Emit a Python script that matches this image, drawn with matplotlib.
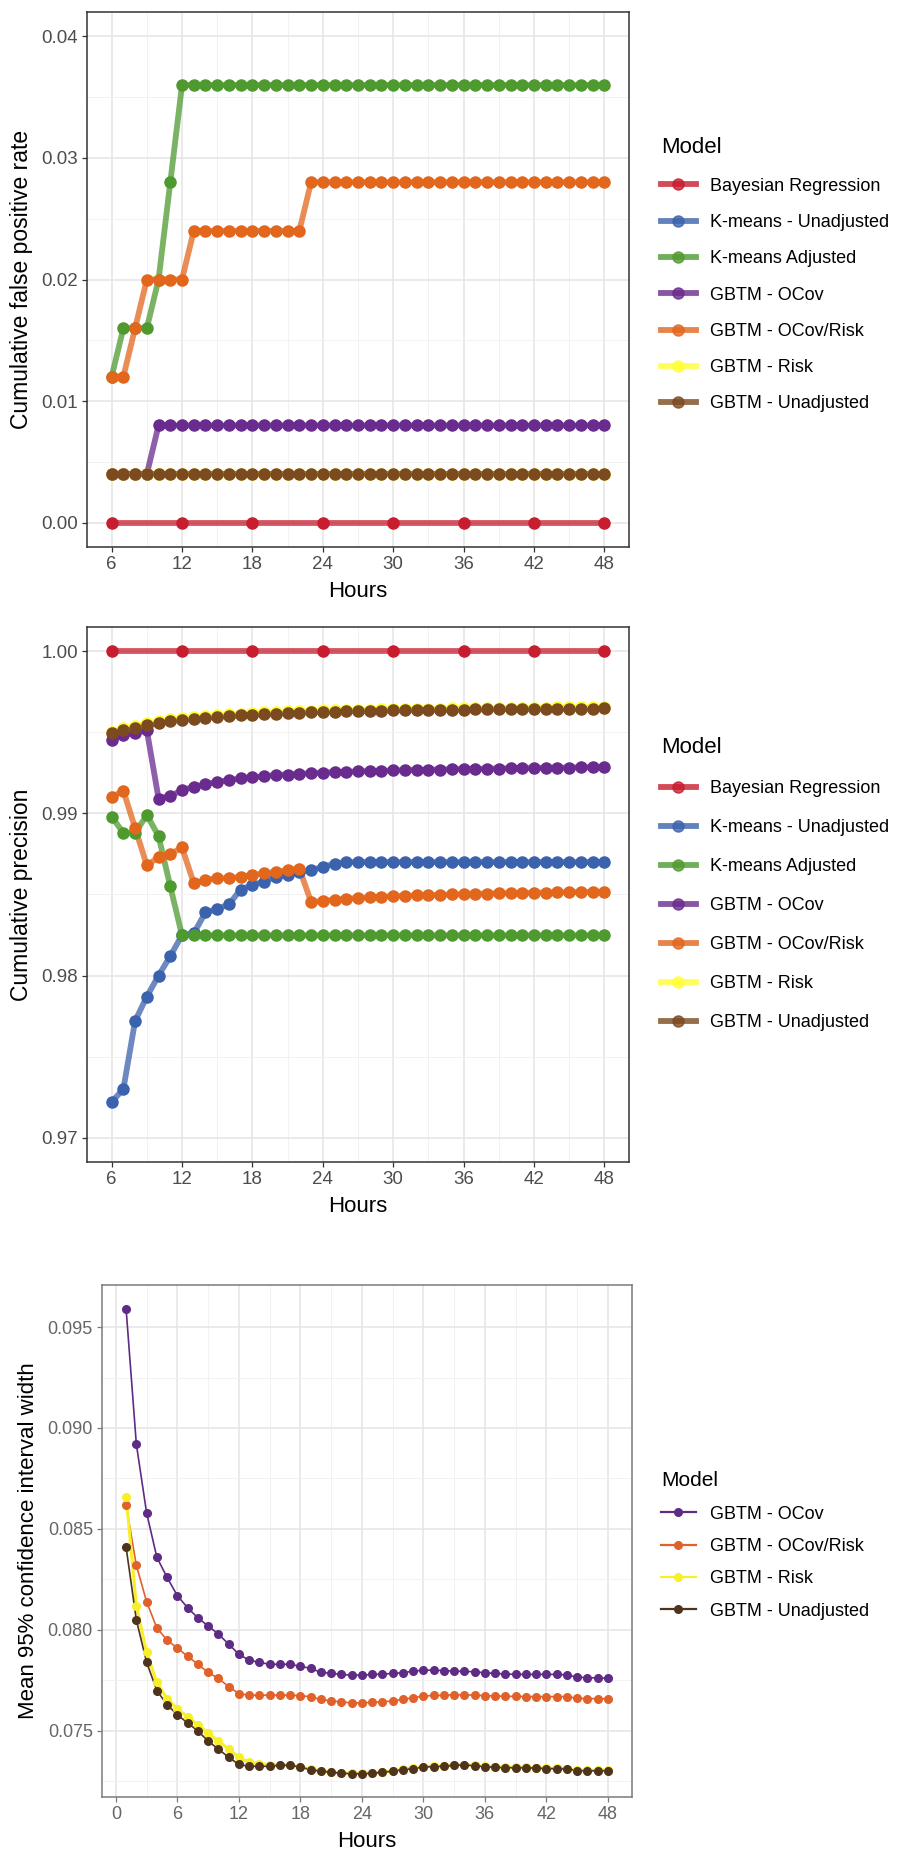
import matplotlib
matplotlib.use("Agg")
import matplotlib.pyplot as plt
from matplotlib.lines import Line2D
from matplotlib.ticker import MultipleLocator, FormatStrFormatter

plt.rcParams['font.family'] = ['Liberation Sans', 'DejaVu Sans']

# ---------------- data ----------------
hours = list(range(6, 49))
hours_bayes = [6, 12, 18, 24, 30, 36, 42, 48]
hours_ci = list(range(1, 49))

models = ['Bayesian Regression', 'K-means - Unadjusted', 'K-means Adjusted',
          'GBTM - OCov', 'GBTM - OCov/Risk', 'GBTM - Risk', 'GBTM - Unadjusted']
colors = ['#c81d2e', '#3b62ad', '#4e9a2f', '#6a2b8e', '#e2661c', '#ffff33', '#7b4a1f']

# cumulative false positive rate
fpr_bayes = [0.0] * 8
fpr_kmeans_adj = [0.012, 0.016, 0.016, 0.016, 0.020, 0.028] + [0.036] * 37
fpr_ocov = [0.004] * 4 + [0.008] * 39
fpr_ocov_risk = [0.012, 0.012, 0.016] + [0.020] * 4 + [0.024] * 10 + [0.028] * 26
fpr_risk = [0.004] * 43
fpr_unadj = [0.004] * 43

# cumulative precision
prec_bayes = [1.0] * 8
prec_kmeans_unadj = [0.9722, 0.9730, 0.9772, 0.9787, 0.9800, 0.9812, 0.9825, 0.9826,
                     0.9839, 0.9841, 0.9844, 0.9853, 0.9856, 0.9858, 0.9861, 0.9862,
                     0.9864, 0.9865, 0.9867, 0.9869, 0.9870] + [0.9870] * 22
prec_kmeans_adj = [0.9898, 0.9888, 0.9888, 0.9899, 0.9886, 0.9855] + [0.98248] * 37
prec_ocov = [0.99456, 0.99483, 0.99497, 0.99513, 0.99092, 0.99107, 0.99144, 0.99164,
             0.99180, 0.99195, 0.99205, 0.99216, 0.99222, 0.99230, 0.99236, 0.99240,
             0.99244, 0.99248, 0.99252, 0.99255, 0.99257, 0.99259, 0.99261, 0.99263,
             0.99265, 0.99267, 0.99268, 0.99270, 0.99271, 0.99272, 0.99274, 0.99275,
             0.99276, 0.99277, 0.99278, 0.99279, 0.99280, 0.99281, 0.99282, 0.99283,
             0.99284, 0.99285, 0.99286]
prec_ocov_risk = [0.9910, 0.9914, 0.9891, 0.9868, 0.9873, 0.9875, 0.9879, 0.9857,
                  0.9859, 0.9860, 0.9860, 0.9861, 0.9862, 0.9863, 0.9864, 0.9865,
                  0.9866, 0.98454, 0.98460, 0.98468, 0.98473, 0.98478, 0.98482, 0.98486,
                  0.98489, 0.98492, 0.98494, 0.98496, 0.98498, 0.98500, 0.98502, 0.98504,
                  0.98506, 0.98507, 0.98508, 0.98510, 0.98511, 0.98512, 0.98513, 0.98514,
                  0.98515, 0.98516, 0.98517]
prec_risk = [0.99505, 0.99525, 0.99542, 0.99557, 0.99570, 0.99580, 0.99589, 0.99596,
             0.99602, 0.99607, 0.99612, 0.99616, 0.99620, 0.99623, 0.99626, 0.99629,
             0.99631, 0.99633, 0.99635, 0.99637, 0.99638, 0.99640, 0.99641, 0.99642,
             0.99643, 0.99644, 0.99645, 0.99646, 0.99647, 0.99648, 0.99649, 0.99650,
             0.99650, 0.99651, 0.99652, 0.99652, 0.99653, 0.99653, 0.99654, 0.99654,
             0.99655, 0.99655, 0.99656]
prec_unadj = [0.99495, 0.99515, 0.99530, 0.99545, 0.99558, 0.99568, 0.99577, 0.99584,
              0.99590, 0.99596, 0.99601, 0.99605, 0.99609, 0.99613, 0.99616, 0.99619,
              0.99622, 0.99624, 0.99626, 0.99628, 0.99630, 0.99631, 0.99633, 0.99634,
              0.99635, 0.99636, 0.99637, 0.99638, 0.99639, 0.99640, 0.99641, 0.99642,
              0.99642, 0.99643, 0.99644, 0.99644, 0.99645, 0.99645, 0.99646, 0.99646,
              0.99647, 0.99647, 0.99648]

# mean 95% confidence interval width
ci_models = ['GBTM - OCov', 'GBTM - OCov/Risk', 'GBTM - Risk', 'GBTM - Unadjusted']
ci_colors = ['#5e2b85', '#e0622a', '#f7ef2a', '#4f331c']
ci_ocov = [0.0959, 0.0892, 0.0858, 0.0836, 0.0826, 0.0817, 0.0811, 0.0806, 0.0802, 0.0798,
           0.0793, 0.0788, 0.0785, 0.0784, 0.0783, 0.0783, 0.0783, 0.0782, 0.0781, 0.0779,
           0.07785, 0.0778, 0.07776, 0.07776, 0.0778, 0.07781, 0.07785, 0.07788, 0.07796, 0.07801,
           0.07801, 0.07799, 0.07796, 0.07795, 0.07793, 0.07788, 0.07785, 0.07782, 0.0778, 0.0778,
           0.0778, 0.0778, 0.0778, 0.07778, 0.07766, 0.07764, 0.07762, 0.07762]
ci_ocov_risk = [0.0862, 0.0832, 0.0814, 0.0801, 0.0795, 0.0791, 0.0787, 0.0783, 0.0779, 0.0776,
                0.0772, 0.07685, 0.07677, 0.07677, 0.07677, 0.07677, 0.07677, 0.07675, 0.07669, 0.07656,
                0.07649, 0.07644, 0.07639, 0.07639, 0.07642, 0.07644, 0.07649, 0.07656, 0.07665, 0.07672,
                0.07676, 0.07676, 0.07679, 0.07679, 0.07677, 0.07675, 0.07673, 0.07672, 0.07671, 0.0767,
                0.0767, 0.0767, 0.0767, 0.0767, 0.07662, 0.0766, 0.0766, 0.0766]
ci_risk = [0.0866, 0.0812, 0.0789, 0.0774, 0.0766, 0.0761, 0.0757, 0.0753, 0.0749, 0.0745,
           0.0741, 0.0737, 0.07345, 0.07338, 0.07333, 0.07332, 0.07332, 0.07323, 0.0731, 0.07303,
           0.07297, 0.07293, 0.0729, 0.0729, 0.07293, 0.07297, 0.07303, 0.0731, 0.07316, 0.07323,
           0.07326, 0.07327, 0.07332, 0.07333, 0.0733, 0.07325, 0.07322, 0.0732, 0.0732, 0.0732,
           0.07318, 0.07316, 0.07315, 0.07314, 0.07306, 0.07305, 0.07305, 0.07305]
ci_unadj = [0.0841, 0.0805, 0.0784, 0.0770, 0.0763, 0.0758, 0.0754, 0.0750, 0.0745, 0.0741,
            0.0737, 0.07334, 0.07325, 0.07325, 0.07325, 0.0733, 0.0733, 0.07321, 0.07308, 0.07301,
            0.07295, 0.07291, 0.07288, 0.07288, 0.07291, 0.07295, 0.07301, 0.07308, 0.07314, 0.07321,
            0.07324, 0.07325, 0.0733, 0.07331, 0.07328, 0.07323, 0.0732, 0.07318, 0.07318, 0.07318,
            0.07316, 0.07314, 0.07313, 0.07312, 0.07304, 0.07303, 0.07303, 0.07303]

# ---------------- figure ----------------
W, H = 900, 1863
fig = plt.figure(figsize=(W / 100, H / 100), dpi=100)


def make_axes(left, top, right, bottom):
    return fig.add_axes([left / W, 1 - bottom / H, (right - left) / W, (bottom - top) / H])


def style(ax, border='#333333', tick_color='#4d4d4d', size=13.5):
    ax.set_axisbelow(True)
    ax.grid(which='major', color='#e4e4e4', lw=1.1)
    ax.grid(which='minor', color='#f0f0f0', lw=0.6)
    for s in ax.spines.values():
        s.set_color(border)
        s.set_linewidth(1.1)
    ax.tick_params(which='major', length=3.5, width=0.9, color=border,
                   labelsize=size, labelcolor=tick_color, pad=3)
    ax.tick_params(which='minor', length=0)


def draw_big(ax, series):
    for x, y, c in series:
        ax.plot(x, y, color=c, lw=4.2, alpha=0.75, solid_capstyle='round', zorder=2)
        ax.plot(x, y, ls='none', marker='o', ms=8, color=c, mec=c, zorder=3)


def big_legend(y_top, spacing):
    handles = [Line2D([], [], color=c, lw=4.2, alpha=0.8, marker='o', ms=8,
                      mfc=c, mec=c) for c in colors]
    leg = fig.legend(handles, models, loc='upper left',
                     bbox_to_anchor=(645 / W, 1 - y_top / H), frameon=False,
                     title='Model', title_fontsize=16, fontsize=13,
                     labelspacing=spacing, handlelength=1.9, handletextpad=0.8,
                     alignment='left')
    return leg


# panel 1: false positive rate
ax1 = make_axes(87, 12, 629, 547)
style(ax1)
draw_big(ax1, [
    (hours_bayes, fpr_bayes, colors[0]),
    (hours, fpr_kmeans_adj, colors[2]),
    (hours, fpr_ocov, colors[3]),
    (hours, fpr_ocov_risk, colors[4]),
    (hours, fpr_risk, colors[5]),
    (hours, fpr_unadj, colors[6]),
])
ax1.set_xlim(3.9, 50.1)
ax1.set_ylim(-0.002, 0.042)
ax1.set_xticks(range(6, 49, 6))
ax1.xaxis.set_minor_locator(MultipleLocator(3))
ax1.yaxis.set_major_locator(MultipleLocator(0.01))
ax1.yaxis.set_minor_locator(MultipleLocator(0.005))
ax1.yaxis.set_major_formatter(FormatStrFormatter('%.2f'))
ax1.set_xlabel('Hours', fontsize=16, labelpad=6)
ax1.set_ylabel('Cumulative false positive rate', fontsize=16.5, labelpad=6)
big_legend(121, 1.07)

# panel 2: precision
ax2 = make_axes(87, 627, 629, 1162)
style(ax2)
draw_big(ax2, [
    (hours_bayes, prec_bayes, colors[0]),
    (hours, prec_kmeans_unadj, colors[1]),
    (hours, prec_kmeans_adj, colors[2]),
    (hours, prec_ocov, colors[3]),
    (hours, prec_ocov_risk, colors[4]),
    (hours, prec_risk, colors[5]),
    (hours, prec_unadj, colors[6]),
])
ax2.set_xlim(3.9, 50.1)
ax2.set_ylim(0.9685, 1.0015)
ax2.set_xticks(range(6, 49, 6))
ax2.xaxis.set_minor_locator(MultipleLocator(3))
ax2.yaxis.set_major_locator(MultipleLocator(0.01))
ax2.yaxis.set_minor_locator(MultipleLocator(0.005))
ax2.yaxis.set_major_formatter(FormatStrFormatter('%.2f'))
ax2.set_xlabel('Hours', fontsize=16, labelpad=6)
ax2.set_ylabel('Cumulative precision', fontsize=16.5, labelpad=6)
big_legend(721, 1.22)

# panel 3: confidence interval width
ax3 = make_axes(102, 1285, 632, 1797)
style(ax3, border='#7a7a7a', tick_color='#666666', size=13)
for y, c in zip([ci_ocov, ci_ocov_risk, ci_risk, ci_unadj], ci_colors):
    lw = 2.2 if c == '#f7ef2a' else 1.2
    ax3.plot(hours_ci, y, color=c, lw=lw, zorder=2)
    ax3.plot(hours_ci, y, ls='none', marker='o', ms=5.5, color=c, mec=c, zorder=3)
ax3.set_xlim(-1.35, 50.35)
ax3.set_ylim(0.07173, 0.09708)
ax3.set_xticks(range(0, 49, 6))
ax3.xaxis.set_minor_locator(MultipleLocator(3))
ax3.yaxis.set_major_locator(MultipleLocator(0.005))
ax3.yaxis.set_minor_locator(MultipleLocator(0.0025))
ax3.yaxis.set_major_formatter(FormatStrFormatter('%.3f'))
ax3.set_xlabel('Hours', fontsize=16, labelpad=6)
ax3.set_ylabel('Mean 95% confidence interval width', fontsize=16, labelpad=6)
handles3 = [Line2D([], [], color=c, lw=1.6, marker='o', ms=5.5, mfc=c, mec=c)
            for c in ci_colors]
fig.legend(handles3, ci_models, loc='upper left',
           bbox_to_anchor=(645 / W, 1 - 1455 / H), frameon=False,
           title='Model', title_fontsize=15, fontsize=13,
           labelspacing=0.85, handlelength=1.9, handletextpad=0.8,
           alignment='left')

fig.savefig('out.png', dpi=100)
